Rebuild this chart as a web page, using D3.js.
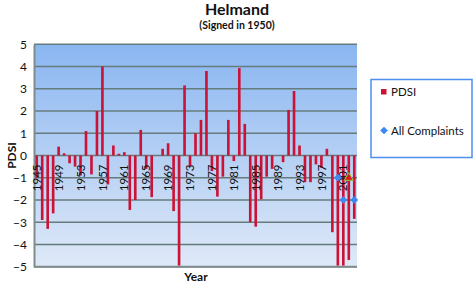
<!DOCTYPE html>
<html>
<head>
<meta charset="utf-8">
<script src="https://cdn.jsdelivr.net/npm/d3@7"></script>
<style>
  html, body { margin: 0; padding: 0; background: #fff; }
  svg { display: block; font-family: Lato, "Open Sans", sans-serif; }
</style>
</head>
<body>
<div id="chart"></div>
<script>
// data
const years = d3.range(1945, 2004);
const pdsi = [
    -1.0, -2.9, -3.3, -2.6, 0.4, 0.1, -0.35, -0.5, -0.9, 1.1,
    -0.85, 2.0, 4.0, -1.3, 0.45, 0.08, 0.15, -2.45, -2.0, 1.15,
    -0.6, -1.87, 0, 0.3, 0.55, -2.5, -4.95, 3.15, -0.5, 1.0,
    1.6, 3.8, -0.7, -1.85, -0.95, 1.6, -0.25, 3.93, 1.42, -3.0,
    -3.2, -1.97, -0.95, -0.6, 0, -0.3, 2.05, 2.9, 0.45, -1.2,
    -1.2, -0.4, -0.55, 0.3, -3.45, -4.95, -4.95, -4.7, -2.85
];
const complaintYears = [2000, 2001, 2003];
const complaintValues = [-1, -2, -2];
const otherYears = [2002];
const otherValues = [-1];
const yTicks = [5, 4, 3, 2, 1, 0, -1, -2, -3, -4, -5];
const labelYears = d3.range(1945, 2004, 4);

const W = 474, H = 283;
const margin = { top: 44.3, right: 117, bottom: 16.3, left: 34 };
const w = W - margin.left - margin.right;
const h = H - margin.top - margin.bottom;

const svg = d3.select('#chart').append('svg')
    .attr('width', W).attr('height', H);

// background gradient of the plot area
const defs = svg.append('defs');
const grad = defs.append('linearGradient')
    .attr('id', 'bg').attr('x1', 0).attr('y1', 0).attr('x2', 0).attr('y2', 1);
grad.append('stop').attr('offset', '0%').attr('stop-color', '#8ab6f1');
grad.append('stop').attr('offset', '100%').attr('stop-color', '#dfe9f7');

const g = svg.append('g')
    .attr('transform', `translate(${margin.left}, ${margin.top})`);

// scales
const x = d3.scaleBand()
    .domain(years)
    .range([0, w])
    .paddingInner(0.52)
    .paddingOuter(0.26);
const y = d3.scaleLinear()
    .domain([-5, 5])
    .range([h, 0]);

g.append('rect')
    .attr('width', w).attr('height', h)
    .attr('fill', 'url(#bg)');

// grid lines
g.append('g')
    .selectAll('line')
    .data(yTicks)
    .join('line')
    .attr('x1', 0).attr('x2', w)
    .attr('y1', d => y(d)).attr('y2', d => y(d))
    .attr('stroke', '#667b7b')
    .attr('stroke-width', 1.5);

// y axis
const yAxis = d3.axisLeft(y).tickValues(yTicks).tickSize(0).tickPadding(7);
const ya = g.append('g').call(yAxis);
ya.select('.domain').attr('stroke', '#7d8c8c').attr('stroke-width', 2);
ya.selectAll('text')
    .attr('font-size', 12)
    .attr('font-family', 'Lato, "Open Sans", sans-serif')
    .attr('fill', '#111');

// bottom border
g.append('line')
    .attr('x1', 0).attr('x2', w)
    .attr('y1', h).attr('y2', h)
    .attr('stroke', '#7d8c8c').attr('stroke-width', 2);

// bars
g.append('g')
    .selectAll('rect')
    .data(years)
    .join('rect')
    .attr('x', d => x(d))
    .attr('width', x.bandwidth())
    .attr('y', (d, i) => y(Math.max(0, pdsi[i])))
    .attr('height', (d, i) => Math.abs(y(pdsi[i]) - y(0)))
    .attr('fill', '#cc1236');

// year labels inside the plot, under the zero line
const xAxis = d3.axisBottom(x).tickValues(labelYears).tickSize(0);
const xa = g.append('g')
    .attr('transform', `translate(0, ${y(0)})`)
    .call(xAxis);
xa.select('.domain').remove();
xa.selectAll('text')
    .attr('transform', 'rotate(-90)')
    .attr('x', -9)
    .attr('y', 0)
    .attr('dy', '0.36em')
    .attr('text-anchor', 'end')
    .attr('font-size', 11.5)
    .attr('font-family', 'Lato, "Open Sans", sans-serif')
    .attr('fill', '#111');

// complaints markers (square turned 45 degrees)
const cx = d => x(d) + x.bandwidth() / 2;
const diamond = d3.symbol().type(d3.symbolSquare).size(30);
g.append('g')
    .selectAll('path')
    .data(complaintYears)
    .join('path')
    .attr('d', diamond)
    .attr('transform', (d, i) => `translate(${cx(d)}, ${y(complaintValues[i])}) rotate(45)`)
    .attr('fill', '#3f88f2');

const tri = d3.symbol().type(d3.symbolTriangle).size(34);
g.append('g')
    .selectAll('path')
    .data(otherYears)
    .join('path')
    .attr('d', tri)
    .attr('transform', (d, i) => `translate(${cx(d)}, ${y(otherValues[i])})`)
    .attr('fill', '#e0141e')
    .attr('stroke', '#8fd13a')
    .attr('stroke-width', 1);

// titles
svg.append('text')
    .attr('x', 237).attr('y', 15)
    .attr('text-anchor', 'middle')
    .attr('font-size', 16).attr('font-weight', 'bold')
    .attr('fill', '#111')
    .text('Helmand');
svg.append('text')
    .attr('x', 237).attr('y', 29)
    .attr('text-anchor', 'middle')
    .attr('font-size', 10.5).attr('font-weight', 'bold')
    .attr('fill', '#111')
    .text('(Signed in 1950)');
svg.append('text')
    .attr('transform', `translate(16, ${y(0) + margin.top}) rotate(-90)`)
    .attr('text-anchor', 'middle')
    .attr('font-size', 12).attr('font-weight', 'bold')
    .attr('fill', '#111')
    .text('PDSI');
svg.append('text')
    .attr('x', 196).attr('y', 281)
    .attr('text-anchor', 'middle')
    .attr('font-size', 12).attr('font-weight', 'bold')
    .attr('fill', '#111')
    .text('Year');

// legend
const lg = svg.append('g').attr('transform', 'translate(371, 79.5)');
lg.append('rect')
    .attr('width', 101).attr('height', 78)
    .attr('fill', '#fff')
    .attr('stroke', '#4d8ff0').attr('stroke-width', 1.5);
lg.append('rect')
    .attr('x', 10).attr('y', 9.5).attr('width', 5.5).attr('height', 5.5)
    .attr('fill', '#cc1236');
lg.append('text')
    .attr('x', 20).attr('y', 16.5)
    .attr('font-size', 11.5).attr('fill', '#111')
    .text('PDSI');
lg.append('path')
    .attr('d', diamond)
    .attr('transform', 'translate(13, 51) rotate(45)')
    .attr('fill', '#3f88f2');
lg.append('text')
    .attr('x', 20).attr('y', 55)
    .attr('font-size', 11.5).attr('fill', '#111')
    .text('All Complaints');
</script>
</body>
</html>
